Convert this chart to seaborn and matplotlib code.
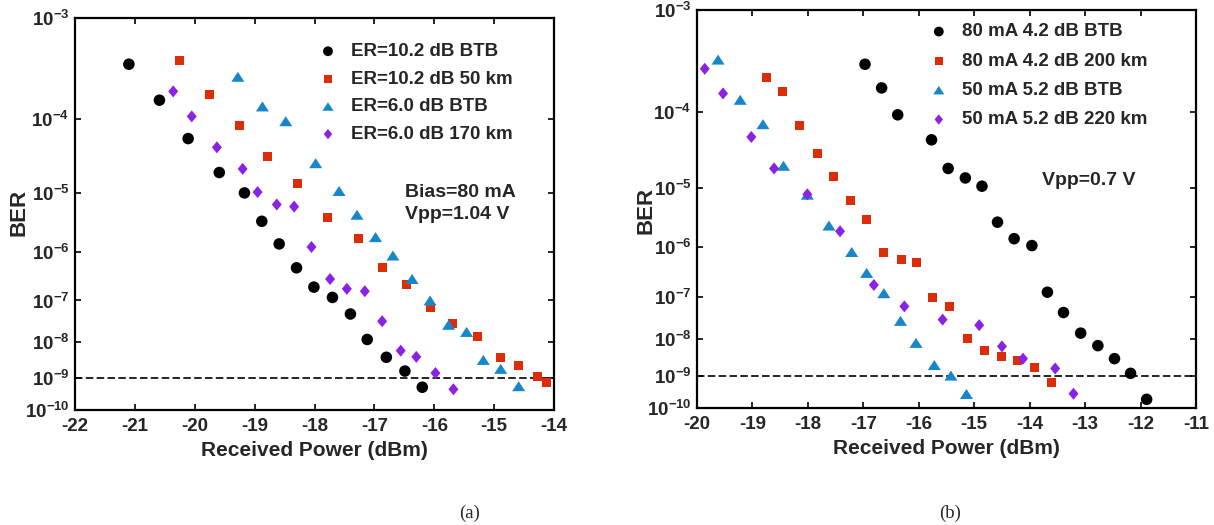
import math
import numpy as np
import pandas as pd
import matplotlib
matplotlib.use("Agg")
import matplotlib.pyplot as plt
from matplotlib.path import Path
from matplotlib.ticker import FixedLocator, NullLocator, FixedFormatter
import seaborn as sns

# ---------------- data ----------------
# panel (a)
a_labels = ["ER=10.2 dB BTB", "ER=10.2 dB 50 km", "ER=6.0 dB BTB", "ER=6.0 dB 170 km"]
a_btb102_x = [-21.10, -20.59, -20.11, -19.59, -19.17, -18.88, -18.59, -18.30, -18.01, -17.70,
              -17.40, -17.12, -16.80, -16.49, -16.20]
a_btb102_y = [3.83e-4, 1.62e-4, 5.7e-5, 2.0e-5, 1.0e-5, 3.5e-6, 1.4e-6, 4.9e-7, 1.96e-7, 1.17e-7,
              4.9e-8, 1.16e-8, 3.9e-9, 1.6e-9, 5.3e-10]
a_50km_x = [-20.25, -19.76, -19.26, -18.78, -18.28, -17.78, -17.27, -16.87, -16.47, -16.06,
            -15.69, -15.28, -14.89, -14.59, -14.28, -14.13]
a_50km_y = [4.19e-4, 1.88e-4, 8.3e-5, 3.3e-5, 1.4e-5, 4.1e-6, 1.75e-6, 4.9e-7, 2.2e-7, 7.1e-8,
            2.9e-8, 1.4e-8, 3.9e-9, 2.3e-9, 1.1e-9, 7.2e-10]
a_btb60_x = [-19.28, -18.87, -18.48, -17.98, -17.59, -17.29, -16.98, -16.69, -16.37, -16.07,
             -15.76, -15.46, -15.18, -14.89, -14.59]
a_btb60_y = [2.87e-4, 1.38e-4, 9.3e-5, 2.7e-5, 1.07e-5, 4.5e-6, 1.86e-6, 8.5e-7, 2.9e-7, 1.0e-7,
             2.7e-8, 1.8e-8, 3.3e-9, 1.85e-9, 5.7e-10]
a_170km_x = [-20.36, -20.05, -19.63, -19.20, -18.95, -18.63, -18.34, -18.05, -17.74, -17.46,
             -17.16, -16.87, -16.56, -16.30, -15.98, -15.68]
a_170km_y = [2.02e-4, 1.06e-4, 4.4e-5, 2.25e-5, 1.03e-5, 6.6e-6, 6.1e-6, 1.23e-6, 2.9e-7, 1.8e-7,
             1.6e-7, 3.3e-8, 5.9e-9, 4.0e-9, 1.4e-9, 4.6e-10]

# panel (b)
b_labels = ["80 mA 4.2 dB BTB", "80 mA 4.2 dB 200 km", "50 mA 5.2 dB BTB", "50 mA 5.2 dB 220 km"]
b_80btb_x = [-16.97, -16.67, -16.38, -15.77, -15.47, -15.16, -14.86, -14.58, -14.28, -13.96,
             -13.68, -13.39, -13.08, -12.77, -12.47, -12.18, -11.89]
b_80btb_y = [3.25e-4, 1.86e-4, 9.3e-5, 4.6e-5, 1.9e-5, 1.39e-5, 1.05e-5, 2.8e-6, 1.44e-6, 1.08e-6,
             1.26e-7, 4.4e-8, 1.4e-8, 6.7e-9, 3.0e-9, 1.16e-9, 1.9e-10]
b_80km_x = [-18.74, -18.46, -18.16, -17.83, -17.53, -17.24, -16.95, -16.63, -16.31, -16.05,
            -15.75, -15.45, -15.12, -14.82, -14.50, -14.22, -13.92, -13.60]
b_80km_y = [2.41e-4, 1.70e-4, 6.9e-5, 3.08e-5, 1.45e-5, 6.3e-6, 3.1e-6, 8.1e-7, 5.9e-7, 5.1e-7,
            9.6e-8, 6.1e-8, 1.0e-8, 5.0e-9, 3.4e-9, 2.6e-9, 1.7e-9, 6.2e-10]
b_50btb_x = [-19.62, -19.22, -18.81, -18.44, -18.01, -17.62, -17.21, -16.94, -16.63, -16.33,
             -16.05, -15.72, -15.42, -15.14]
b_50btb_y = [3.61e-4, 1.38e-4, 7.2e-5, 2.07e-5, 7.8e-6, 2.45e-6, 8.2e-7, 3.2e-7, 1.2e-7, 2.8e-8,
             7.9e-9, 2.0e-9, 1.0e-9, 2.8e-10]
b_50km_x = [-19.86, -19.53, -19.02, -18.61, -18.01, -17.42, -16.81, -16.26, -15.57, -14.91,
            -14.50, -14.12, -13.54, -13.21]
b_50km_y = [2.93e-4, 1.62e-4, 5.0e-5, 1.9e-5, 7.9e-6, 1.95e-6, 1.8e-7, 6.1e-8, 3.0e-8, 2.2e-8,
            6.4e-9, 3.0e-9, 1.6e-9, 2.85e-10]

ytick_vals = [1e-3, 1e-4, 1e-5, 1e-6, 1e-7, 1e-8, 1e-9, 1e-10]
ytick_labels = [r"$10^{-3}$", r"$10^{-4}$", r"$10^{-5}$", r"$10^{-6}$", r"$10^{-7}$",
                r"$10^{-8}$", r"$10^{-9}$", r"$10^{-10}$"]
a_xticks = [-22, -21, -20, -19, -18, -17, -16, -15, -14]
b_xticks = [-20, -19, -18, -17, -16, -15, -14, -13, -12, -11]
fec_limit = 1e-9

# ---------------- style ----------------
sns.set_theme(style="ticks")
plt.rcParams["font.family"] = ["Liberation Sans", "DejaVu Sans"]
plt.rcParams["font.weight"] = "bold"
plt.rcParams["mathtext.fontset"] = "custom"
plt.rcParams["mathtext.rm"] = "Liberation Sans:bold"
plt.rcParams["mathtext.it"] = "Liberation Sans:bold"
plt.rcParams["mathtext.bf"] = "Liberation Sans:bold"
plt.rcParams["mathtext.sf"] = "Liberation Sans:bold"
plt.rcParams["axes.unicode_minus"] = False

colors = ["#000000", "#DD2C08", "#1787CC", "#8A22E6"]
tri = Path([(0, 0.77), (-1, -0.77), (1, -0.77), (0, 0.77)],
           [Path.MOVETO, Path.LINETO, Path.LINETO, Path.CLOSEPOLY])
dia = Path([(0, 1), (0.83, 0), (0, -1), (-0.83, 0), (0, 1)],
           [Path.MOVETO, Path.LINETO, Path.LINETO, Path.LINETO, Path.CLOSEPOLY])
markers = ["o", "s", tri, dia]
sizes = [69, 42, 88, 75]

_erfc = np.vectorize(math.erfc, otypes=[float])


def ber_fwd(b):
    # BER axis: -log10(Q), Q = sqrt(2) * erfcinv(2*BER)
    b = np.asarray(b, dtype=float)
    bc = np.clip(np.nan_to_num(b, nan=1e-5), 1e-300, 0.49)
    lo = np.zeros(bc.shape)
    hi = np.full(bc.shape, 38.0)
    for _ in range(64):
        mid = 0.5 * (lo + hi)
        above = 0.5 * _erfc(mid / math.sqrt(2)) > bc
        lo = np.where(above, mid, lo)
        hi = np.where(above, hi, mid)
    out = -np.log10(0.5 * (lo + hi))
    return np.where(np.isnan(b), np.nan, out)


def ber_inv(y):
    y = np.asarray(y, dtype=float)
    return 0.5 * _erfc(np.power(10.0, -y) / math.sqrt(2))


fig = plt.figure(figsize=(12.14, 5.25), dpi=100)
ax_a = fig.add_axes([75 / 1214, 1 - 410 / 525, 479 / 1214, 392 / 525])
ax_b = fig.add_axes([697 / 1214, 1 - 408 / 525, 499 / 1214, 398 / 525])

panels = [
    (ax_a, a_labels, [(a_btb102_x, a_btb102_y), (a_50km_x, a_50km_y),
                      (a_btb60_x, a_btb60_y), (a_170km_x, a_170km_y)], a_xticks,
     (-0.096, 0.503)),
    (ax_b, b_labels, [(b_80btb_x, b_80btb_y), (b_80km_x, b_80km_y),
                      (b_50btb_x, b_50btb_y), (b_50km_x, b_50km_y)], b_xticks,
     (-0.082, 0.497)),
]

for ax, labels, series, xt, ylab_pos in panels:
    for i, (xs, ys) in enumerate(series):
        df = pd.DataFrame({"power": xs, "ber": ys})
        sns.scatterplot(data=df, x="power", y="ber", ax=ax, color=colors[i],
                        marker=markers[i], s=sizes[i], linewidth=0, edgecolor="none",
                        label=labels[i], zorder=3)
    ax.set_yscale("function", functions=(ber_fwd, ber_inv))
    ax.set_ylim(1e-10, 1e-3)
    ax.set_xlim(xt[0], xt[-1])
    ax.yaxis.set_major_locator(FixedLocator(ytick_vals))
    ax.yaxis.set_major_formatter(FixedFormatter(ytick_labels))
    ax.yaxis.set_minor_locator(NullLocator())
    ax.set_xticks(xt)
    ax.set_xticklabels([str(v) for v in xt])
    ax.axhline(fec_limit, color="black", lw=1.2, ls=(0, (4.5, 2.0)), zorder=2)
    ax.tick_params(axis="both", which="major", direction="in", length=4, width=1.2,
                   top=True, right=True, labelsize=13.5, pad=4, color="black")
    ax.tick_params(axis="x", pad=6)
    for sp in ax.spines.values():
        sp.set_linewidth(1.6)
        sp.set_color("black")
    ax.set_xlabel("Received Power (dBm)", fontsize=15, fontweight="bold", labelpad=4)
    ax.set_ylabel("BER", fontsize=16, fontweight="bold")
    ax.yaxis.set_label_coords(*ylab_pos)
    for t in ax.get_xticklabels() + ax.get_yticklabels():
        t.set_fontweight("bold")

leg_a = ax_a.legend(loc="upper left", bbox_to_anchor=(0.489, 0.96), frameon=False,
                    handlelength=1.0, handletextpad=0.75,
                    labelspacing=0.56, borderpad=0, markerscale=0.85,
                    prop={"weight": "bold", "size": 13.5})
leg_b = ax_b.legend(loc="upper left", bbox_to_anchor=(0.447, 0.99), frameon=False,
                    handlelength=1.0, handletextpad=0.75,
                    labelspacing=0.65, borderpad=0, markerscale=0.85,
                    prop={"weight": "bold", "size": 13.5})

ax_a.text(0.689, 0.556, "Bias=80 mA", transform=ax_a.transAxes, fontsize=14,
          fontweight="bold", va="center", ha="left")
ax_a.text(0.689, 0.498, "Vpp=1.04 V", transform=ax_a.transAxes, fontsize=14,
          fontweight="bold", va="center", ha="left")
ax_b.text(0.691, 0.572, "Vpp=0.7 V", transform=ax_b.transAxes, fontsize=14,
          fontweight="bold", va="center", ha="left")

fig.text(470 / 1214, 1 - 513 / 525, "(a)", fontsize=13.5, fontweight="normal",
         family=["Liberation Serif", "DejaVu Serif"], ha="center", va="center")
fig.text(950 / 1214, 1 - 513 / 525, "(b)", fontsize=13.5, fontweight="normal",
         family=["Liberation Serif", "DejaVu Serif"], ha="center", va="center")

fig.savefig("out.png", dpi=100)
